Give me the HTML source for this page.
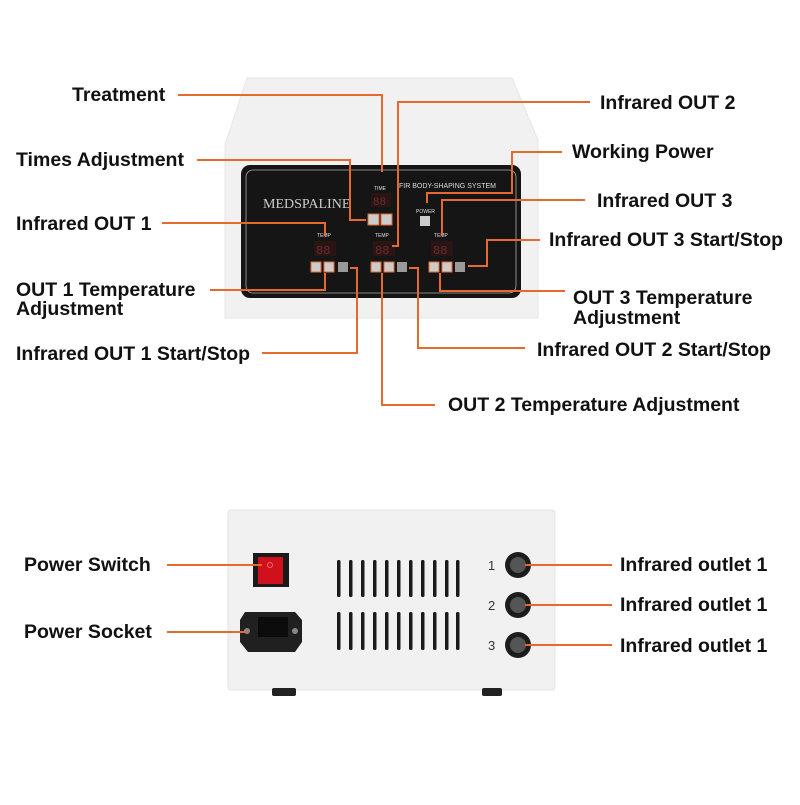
<!DOCTYPE html>
<html><head><meta charset="utf-8"><style>
body{margin:0;background:#fff}
svg text{font-family:"Liberation Sans",sans-serif}
.l{font-weight:bold;font-size:19.5px;fill:#111}
.o{stroke:#e8692e;stroke-width:2;fill:none}
.s{font-size:5px;fill:#ddd}
.m{font-family:"Liberation Mono",monospace !important}
</style></head><body>
<svg width="800" height="800" viewBox="0 0 800 800" xmlns="http://www.w3.org/2000/svg">
<path d="M247,78 L512,78 L538,140 L538,318 L225,318 L225,145 Z" fill="#f1f1f1" stroke="#e6e6e6"/>
<rect x="241" y="165" width="280" height="133" rx="9" fill="#151515"/>
<rect x="246" y="170" width="270" height="123" rx="7" fill="none" stroke="#aaa" stroke-width="0.8"/>
<text x="263" y="208" style="font-family:'Liberation Serif',serif;font-size:14px" fill="#ccc">MEDSPALINE</text>
<text x="399" y="188" font-size="7" fill="#ddd">FIR BODY-SHAPING SYSTEM</text>
<text x="374" y="190" class="s">TIME</text>
<rect x="371" y="193" width="20" height="14" fill="#2a1515"/><text x="373" y="205" font-size="11" fill="#6b2a2a" class="m">88</text>
<text x="416" y="213" class="s">POWER</text>
<rect x="420" y="216" width="10" height="10" fill="#ccc"/>
<g fill="#ccc" stroke="#e8692e" stroke-width="1">
<rect x="368" y="214" width="11" height="11"/><rect x="381" y="214" width="11" height="11"/>
</g>
<text x="317" y="237" class="s">TEMP</text><text x="375" y="237" class="s">TEMP</text><text x="434" y="237" class="s">TEMP</text>
<rect x="314" y="241" width="22" height="15" fill="#2a1515"/><rect x="373" y="241" width="22" height="15" fill="#2a1515"/><rect x="431" y="241" width="22" height="15" fill="#2a1515"/>
<text x="316" y="254" font-size="12" fill="#6b2a2a" class="m">88</text>
<text x="375" y="254" font-size="12" fill="#6b2a2a" class="m">88</text>
<text x="433" y="254" font-size="12" fill="#6b2a2a" class="m">88</text>
<g fill="#ccc" stroke="#e8692e" stroke-width="1">
<rect x="311" y="262" width="10" height="10"/><rect x="324" y="262" width="10" height="10"/><rect x="338" y="262" width="10" height="10" fill="#999" stroke="none"/>
<rect x="371" y="262" width="10" height="10"/><rect x="384" y="262" width="10" height="10"/><rect x="397" y="262" width="10" height="10" fill="#999" stroke="none"/>
<rect x="429" y="262" width="10" height="10"/><rect x="442" y="262" width="10" height="10"/><rect x="455" y="262" width="10" height="10" fill="#999" stroke="none"/>
</g>
<path class="o" d="M178,95 H382 V172"/>
<path class="o" d="M197,160 H350 V220 H366"/>
<path class="o" d="M162,223 H325 V236"/>
<path class="o" d="M210,290 H325 V273"/>
<path class="o" d="M262,353 H357 V268 H350"/>
<path class="o" d="M435,405 H382 V273"/>
<path class="o" d="M525,348 H418 V268 H409"/>
<path class="o" d="M590,102 H398 V246 H392"/>
<path class="o" d="M562,152 H512 V193 H427 V203"/>
<path class="o" d="M585,200 H442 V236"/>
<path class="o" d="M540,240 H487 V266 H468"/>
<path class="o" d="M565,291 H440 V273"/>
<text class="l" x="72" y="101">Treatment</text>
<text class="l" x="16" y="166">Times Adjustment</text>
<text class="l" x="16" y="230">Infrared OUT 1</text>
<text class="l" x="16" y="296">OUT 1 Temperature</text>
<text class="l" x="16" y="315">Adjustment</text>
<text class="l" x="16" y="360">Infrared OUT 1 Start/Stop</text>
<text class="l" x="600" y="109">Infrared OUT 2</text>
<text class="l" x="572" y="158">Working Power</text>
<text class="l" x="597" y="207">Infrared OUT 3</text>
<text class="l" x="549" y="246">Infrared OUT 3 Start/Stop</text>
<text class="l" x="573" y="304">OUT 3 Temperature</text>
<text class="l" x="573" y="324">Adjustment</text>
<text class="l" x="537" y="356">Infrared OUT 2 Start/Stop</text>
<text class="l" x="448" y="411">OUT 2 Temperature Adjustment</text>
<rect x="228" y="510" width="327" height="180" rx="3" fill="#f1f1f1" stroke="#e4e4e4"/>
<rect x="272" y="688" width="24" height="8" rx="2" fill="#222"/>
<rect x="482" y="688" width="20" height="8" rx="2" fill="#222"/>
<rect x="253" y="553" width="36" height="34" fill="#1a1a1a"/>
<rect x="258" y="557" width="25" height="27" fill="#d0101a"/>
<circle cx="270" cy="565" r="2.5" fill="none" stroke="#f88" stroke-width="0.8"/>
<path d="M245,612 H295 L302,620 V642 L295,652 H248 L240,642 V620 Z" fill="#202020"/>
<rect x="258" y="617" width="30" height="20" fill="#0c0c0c"/>
<circle cx="247" cy="631" r="3" fill="#888"/><circle cx="295" cy="631" r="3" fill="#888"/>
<g fill="#1a1a1a">
<rect x="337" y="560" width="3.5" height="37" rx="1.5"/><rect x="349" y="560" width="3.5" height="37" rx="1.5"/><rect x="361" y="560" width="3.5" height="37" rx="1.5"/><rect x="373" y="560" width="3.5" height="37" rx="1.5"/><rect x="385" y="560" width="3.5" height="37" rx="1.5"/><rect x="397" y="560" width="3.5" height="37" rx="1.5"/><rect x="409" y="560" width="3.5" height="37" rx="1.5"/><rect x="421" y="560" width="3.5" height="37" rx="1.5"/><rect x="433" y="560" width="3.5" height="37" rx="1.5"/><rect x="456" y="560" width="3.5" height="37" rx="1.5"/><rect x="445" y="560" width="3.5" height="37" rx="1.5"/>
<rect x="337" y="612" width="3.5" height="38" rx="1.5"/><rect x="349" y="612" width="3.5" height="38" rx="1.5"/><rect x="361" y="612" width="3.5" height="38" rx="1.5"/><rect x="373" y="612" width="3.5" height="38" rx="1.5"/><rect x="385" y="612" width="3.5" height="38" rx="1.5"/><rect x="397" y="612" width="3.5" height="38" rx="1.5"/><rect x="409" y="612" width="3.5" height="38" rx="1.5"/><rect x="421" y="612" width="3.5" height="38" rx="1.5"/><rect x="433" y="612" width="3.5" height="38" rx="1.5"/><rect x="445" y="612" width="3.5" height="38" rx="1.5"/><rect x="456" y="612" width="3.5" height="38" rx="1.5"/>
</g>
<g fill="#1c1c1c"><circle cx="518" cy="565" r="13"/><circle cx="518" cy="605" r="13"/><circle cx="518" cy="645" r="13"/></g>
<g fill="#555"><circle cx="518" cy="565" r="8"/><circle cx="518" cy="605" r="8"/><circle cx="518" cy="645" r="8"/></g>
<text x="488" y="570" font-size="13" fill="#333">1</text>
<text x="488" y="610" font-size="13" fill="#333">2</text>
<text x="488" y="650" font-size="13" fill="#333">3</text>
<path class="o" d="M167,565 H262"/>
<path class="o" d="M167,632 H247"/>
<path class="o" d="M525,565 H612"/><path class="o" d="M525,605 H612"/><path class="o" d="M525,645 H612"/>
<text class="l" x="24" y="571">Power Switch</text>
<text class="l" x="24" y="638">Power Socket</text>
<text class="l" x="620" y="571">Infrared outlet 1</text>
<text class="l" x="620" y="611">Infrared outlet 1</text>
<text class="l" x="620" y="652">Infrared outlet 1</text>
</svg>
</body></html>
